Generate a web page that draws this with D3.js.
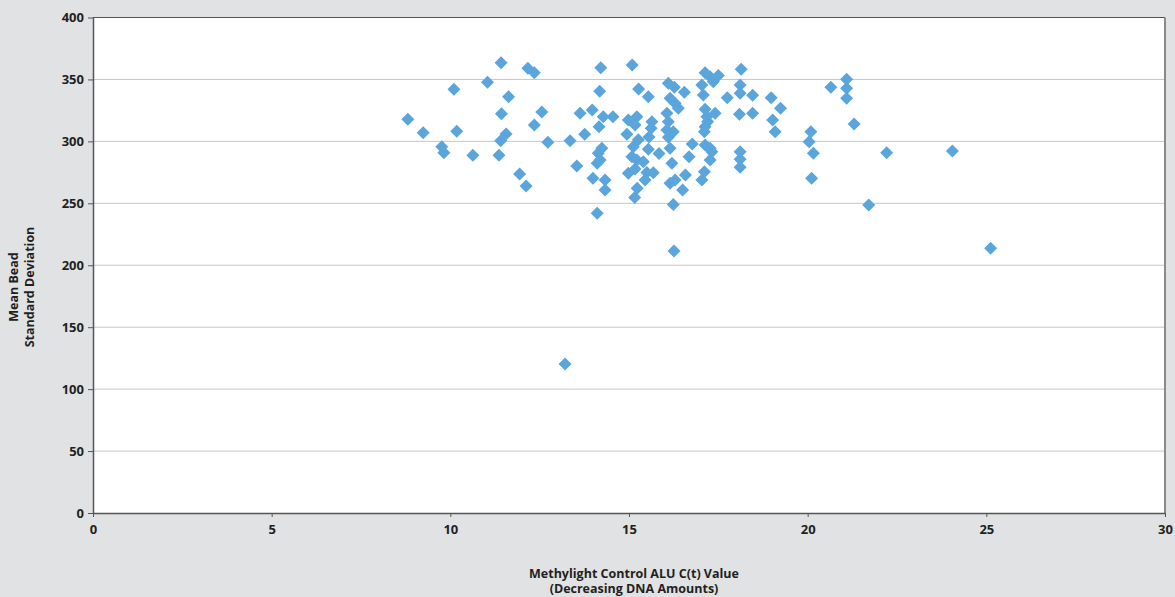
<!DOCTYPE html>
<html>
<head>
<meta charset="utf-8">
<script src="https://cdn.jsdelivr.net/npm/d3@7"></script>
<style>
  html, body { margin: 0; padding: 0; background: #e1e2e4; }
  svg { display: block; }
  text { font-family: "Open Sans", Lato, sans-serif; fill: #231f20; }
</style>
</head>
<body>
<svg id="chart" width="1175" height="597"></svg>
<script>
const xValues = [
  8.81, 9.24, 9.76, 9.82, 10.10, 10.18, 10.63, 11.04, 11.42, 11.63, 11.43, 11.56, 11.41, 11.36,
  11.94, 12.12, 12.17, 12.35, 12.35, 12.56, 12.73, 13.21, 13.35, 13.54, 13.63, 13.76, 13.97, 13.99,
  14.11, 14.16, 14.21, 14.18, 14.14, 14.11, 14.24, 14.19, 14.28, 14.33, 14.33, 14.55,
  15.09, 15.27, 15.54, 16.10, 16.27, 16.55, 16.15, 16.29, 16.38, 15.22, 14.98, 15.17, 14.94, 15.64,
  15.62, 15.56, 16.06, 16.10, 16.06, 16.24, 16.10, 15.26, 15.12, 15.54, 15.84, 16.15, 16.77, 15.08,
  15.22, 15.40, 14.98, 15.17, 15.50, 15.68, 15.45, 16.20, 16.68, 16.58, 16.15, 16.29, 16.50, 15.23,
  15.16, 16.24, 16.26,
  17.13, 17.27, 17.50, 17.36, 18.14, 17.04, 17.08, 17.75, 18.11, 18.11, 18.46, 18.98, 19.24, 17.13,
  17.41, 17.18, 17.20, 17.13, 17.11, 18.09, 18.46, 19.02, 19.09, 17.13, 17.27, 17.32, 17.27, 18.11,
  18.11, 18.11, 17.11, 17.04,
  20.65, 21.09, 21.09, 21.09, 21.30, 20.09, 20.04, 20.16, 20.11, 22.21, 24.05, 21.71, 25.12
];
const yValues = [
  317.8, 307.0, 295.7, 290.9, 342.0, 308.1, 288.8, 347.7, 363.5, 336.1, 322.3, 306.0, 300.5, 288.8,
  273.7, 264.0, 359.0, 355.4, 313.2, 323.7, 299.3, 120.3, 300.5, 280.1, 322.7, 305.7, 325.3, 270.2,
  241.9, 311.8, 359.5, 340.4, 290.4, 282.3, 294.4, 285.0, 319.9, 268.8, 260.7, 319.9,
  361.7, 342.3, 336.1, 346.9, 343.6, 339.6, 334.8, 330.7, 326.7, 319.9, 317.3, 313.2, 305.7, 315.9,
  310.6, 303.5, 322.7, 315.9, 309.2, 307.8, 303.3, 301.4, 295.7, 293.6, 290.2, 294.4, 297.9, 287.6,
  285.0, 283.6, 274.2, 277.7, 274.9, 274.7, 268.8, 282.3, 287.6, 272.9, 266.1, 268.8, 260.7, 262.1,
  254.7, 249.0, 211.5,
  355.4, 352.2, 353.2, 348.2, 358.2, 345.5, 337.4, 335.3, 345.5, 338.8, 337.2, 335.3, 326.7, 325.9,
  322.7, 319.9, 315.9, 311.8, 307.8, 321.9, 322.7, 317.3, 307.8, 297.1, 294.4, 291.7, 285.0, 291.7,
  285.5, 279.1, 275.5, 268.8,
  343.6, 350.1, 342.8, 334.8, 314.0, 307.8, 299.7, 290.4, 270.2, 290.9, 292.2, 248.6, 213.7
];
const xTicks = [0, 5, 10, 15, 20, 25, 30];
const yTicks = [0, 50, 100, 150, 200, 250, 300, 350, 400];
const xTitleLines = ["Methylight Control ALU C(t) Value", "(Decreasing DNA Amounts)"];
const yTitleLines = ["Mean Bead", "Standard Deviation"];

(function () {
const points = xValues.map((x, i) => ({ x, y: yValues[i] }));

const svg = d3.select("#chart");
const pLeft = 93, pRight = 1165, pTop = 17.5, pBottom = 513;

const x = d3.scaleLinear().domain([0, 30]).range([pLeft, pRight]);
const y = d3.scaleLinear().domain([0, 400]).range([pBottom, pTop]);

svg.append("rect").attr("width", 1175).attr("height", 597).attr("fill", "#e1e2e4");
svg.append("rect")
  .attr("x", pLeft).attr("y", pTop)
  .attr("width", pRight - pLeft).attr("height", pBottom - pTop)
  .attr("fill", "#ffffff");

svg.append("g").selectAll("line")
  .data(yTicks.filter(d => d > 0 && d < 400))
  .join("line")
  .attr("x1", pLeft).attr("x2", pRight)
  .attr("y1", d => y(d)).attr("y2", d => y(d))
  .attr("stroke", "#c6c6c6").attr("stroke-width", 1);

svg.append("line").attr("x1", pLeft).attr("x2", pRight).attr("y1", pTop).attr("y2", pTop)
  .attr("stroke", "#555").attr("stroke-width", 1.2);
svg.append("line").attr("x1", pRight).attr("x2", pRight).attr("y1", pTop).attr("y2", pBottom)
  .attr("stroke", "#8a8a8a").attr("stroke-width", 2);

const xAxis = d3.axisBottom(x).tickValues(xTicks).tickSize(4).tickPadding(8).tickSizeOuter(0);
const gx = svg.append("g").attr("transform", `translate(0,${pBottom})`).call(xAxis);
gx.select(".domain").attr("stroke", "#555").attr("stroke-width", 1.5);
gx.selectAll(".tick line").attr("stroke", "#555");
gx.selectAll(".tick text").attr("font-size", 13).attr("font-weight", 700)
  .attr("fill", "#231f20").attr("font-family", "'Open Sans', sans-serif");

const yAxis = d3.axisLeft(y).tickValues(yTicks).tickSize(5).tickPadding(4).tickSizeOuter(0);
const gy = svg.append("g").attr("transform", `translate(${pLeft},0)`).call(yAxis);
gy.select(".domain").attr("stroke", "#555").attr("stroke-width", 1.5);
gy.selectAll(".tick line").attr("stroke", "#555");
gy.selectAll(".tick text").attr("font-size", 13).attr("font-weight", 700)
  .attr("fill", "#231f20").attr("font-family", "'Open Sans', sans-serif");

const r = 6.5;
svg.append("g").selectAll("path")
  .data(points)
  .join("path")
  .attr("transform", d => `translate(${x(d.x)},${y(d.y)})`)
  .attr("d", `M0,${-r}L${r},0L0,${r}L${-r},0Z`)
  .attr("fill", "#5aa5dc");

svg.append("g").selectAll("text")
  .data(xTitleLines)
  .join("text")
  .attr("x", 634).attr("y", (d, i) => 578 + i * 15)
  .attr("text-anchor", "middle")
  .attr("font-size", 12.5).attr("font-weight", 700)
  .text(d => d);

svg.append("g").selectAll("text")
  .data(yTitleLines)
  .join("text")
  .attr("transform", (d, i) => `translate(${18 + i * 16},287) rotate(-90)`)
  .attr("text-anchor", "middle")
  .attr("font-size", 12.5).attr("font-weight", 700)
  .text(d => d);
})();
</script>
</body>
</html>
